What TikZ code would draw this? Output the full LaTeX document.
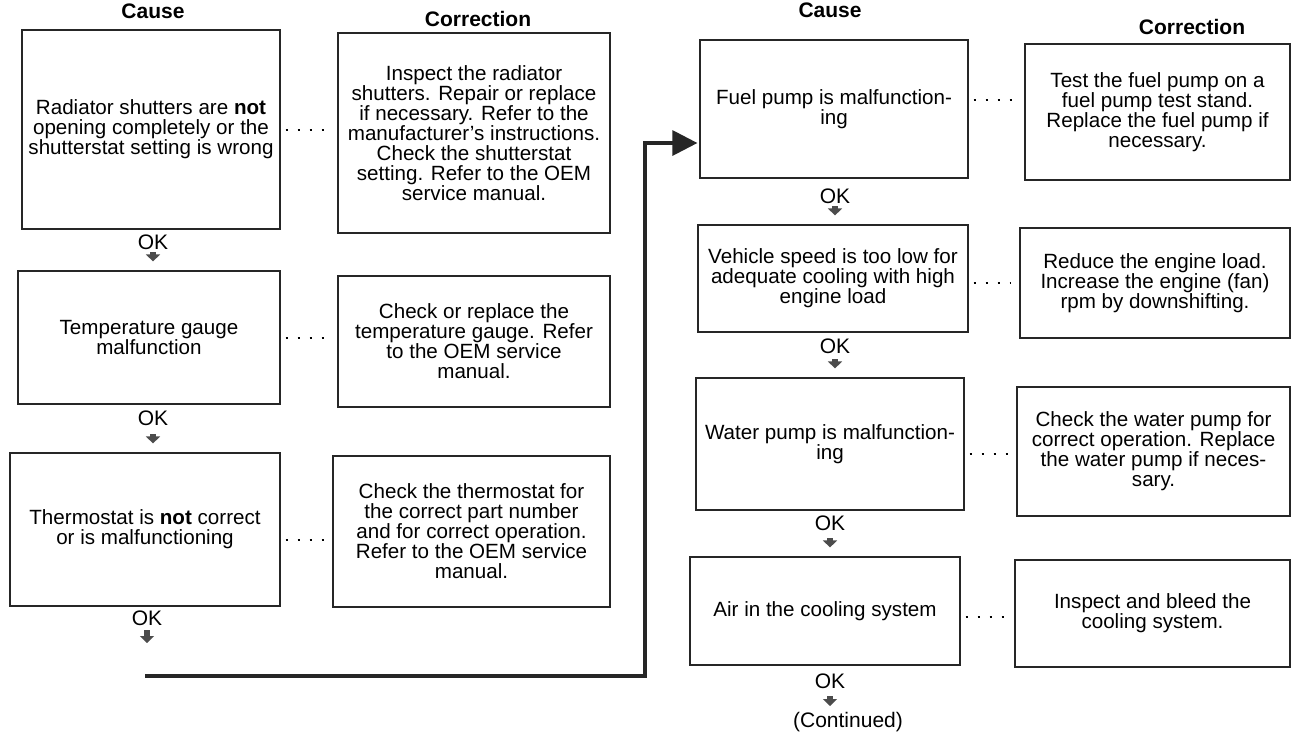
\documentclass[tikz,border=0pt]{standalone}
\usepackage{fontspec}
\setmainfont{Liberation Sans}
\usetikzlibrary{arrows.meta}

\begin{document}
\begin{tikzpicture}[x=0.5pt, y=-0.5pt, font=\fontsize{10.3}{10}\selectfont,
  causebox/.style={draw=black!85, line width=0.6pt, inner sep=0pt, align=center},
  colhead/.style={inner sep=0pt, font=\fontsize{10.5}{12}\selectfont\bfseries},
  oklabel/.style={inner sep=0pt, font=\fontsize{10.5}{12}\selectfont},
  okarrow/.style={-{Triangle[length=3.5pt,width=7pt]}, line width=2.6pt, draw=black!70, shorten >=4.5pt},
  dotrow/.style={line width=1pt, dash pattern=on 1pt off 5pt, shorten <=2.5pt, shorten >=4pt},
  mainline/.style={-{Triangle[length=12.5pt,width=12.5pt]}, line width=1.6pt, draw=black!85, shorten >=1pt}]
  \useasboundingbox (0,0) rectangle (1293,735);
  \fill[white] (0,0) rectangle (1293,735);

  % ---- column heads ----
  \node[colhead] (hcauseL) at (153,11) {Cause};
  \node[colhead] (hcorrL) at (478,19) {Correction};
  \node[colhead] (hcauseR) at (830,10) {Cause};
  \node[colhead] (hcorrR) at (1192,27) {Correction};

  % ---- left half: causes ----
  \node[causebox, minimum width=129pt, minimum height=99.5pt] (L1) at (151,129.5)
    {Radiator shutters are \textbf{not}\\opening completely or the\\shutterstat setting is wrong};
  \node[causebox, minimum width=131pt, minimum height=66.5pt] (L2) at (149,337.5)
    {Temperature gauge\\malfunction};
  \node[causebox, minimum width=135pt, minimum height=76.5pt] (L3) at (145,529.5)
    {Thermostat is \textbf{not} correct\\or is malfunctioning};

  % ---- left half: corrections ----
  \node[causebox, minimum width=136pt, minimum height=100pt] (C1) at (474,133)
    {Inspect the radiator\\shutters. Repair or replace\\if necessary. Refer to the\\manufacturer’s instructions.\\Check the shutterstat\\setting. Refer to the OEM\\service manual.};
  \node[causebox, minimum width=136pt, minimum height=65.5pt] (C2) at (474,341.5)
    {Check or replace the\\temperature gauge. Refer\\to the OEM service\\manual.};
  \node[causebox, minimum width=138.5pt, minimum height=75.5pt] (C3) at (471.5,531.5)
    {Check the thermostat for\\the correct part number\\and for correct operation.\\Refer to the OEM service\\manual.};

  % ---- right half: causes ----
  \node[causebox, minimum width=134pt, minimum height=69pt] (R1) at (834,109)
    {Fuel pump is malfunction-\\ing};
  \node[causebox, minimum width=135pt, minimum height=53.5pt] (R2) at (833,278.5)
    {Vehicle speed is too low for\\adequate cooling with high\\engine load};
  \node[causebox, minimum width=134pt, minimum height=66pt] (R3) at (830,444)
    {Water pump is malfunction-\\ing};
  \node[causebox, minimum width=135pt, minimum height=54pt] (R4) at (825,611)
    {Air in the cooling system};

  % ---- right half: corrections ----
  \node[causebox, minimum width=132.5pt, minimum height=68pt] (CR1) at (1157.5,112)
    {Test the fuel pump on a\\fuel pump test stand.\\Replace the fuel pump if\\necessary.};
  \node[causebox, minimum width=135pt, minimum height=55pt] (CR2) at (1155,283)
    {Reduce the engine load.\\Increase the engine (fan)\\rpm by downshifting.};
  \node[causebox, minimum width=136.5pt, minimum height=64.5pt] (CR3) at (1153.5,451.5)
    {Check the water pump for\\correct operation. Replace\\the water pump if neces-\\sary.};
  \node[causebox, minimum width=137.5pt, minimum height=53.5pt] (CR4) at (1152.5,613.5)
    {Inspect and bleed the\\cooling system.};

  % ---- dotted leaders cause -> correction (shift = text line they sit on) ----
  \foreach \c/\f/\s in {L1/C1/0pt, L2/C2/0pt, L3/C3/-5pt, R1/CR1/4.5pt, R2/CR2/-2pt, R3/CR3/-5pt, R4/CR4/-3pt} {
    \path ([yshift=\s]\c.east) coordinate (lead);
    \draw[dotrow] (lead) -- (lead -| \f.west);
  }

  % ---- OK steps ----
  \node[oklabel] (okL1) at (153,242) {OK};
  \node[oklabel] (okL2) at (153,418) {OK};
  \node[oklabel] (okL3) at (147,618) {OK};
  \node[oklabel] (okR1) at (835,196) {OK};
  \node[oklabel] (okR2) at (835,346) {OK};
  \node[oklabel] (okR3) at (830,523) {OK};
  \node[oklabel] (okR4) at (830,681) {OK};
  \coordinate (tailL) at (147,643);
  \coordinate (tailR) at (830,706);

  \draw[okarrow, shorten <=1.25pt] (okL1.south) -- (okL1.south |- L2.north);
  \draw[okarrow, shorten <=4.25pt] (okL2.south) -- (okL2.south |- L3.north);
  \draw[okarrow, shorten <=2.25pt, shorten >=0pt] (okL3.south) -- (tailL);
  \draw[okarrow, shorten <=1.25pt] (okR1.south) -- (okR1.south |- R2.north);
  \draw[okarrow, shorten <=2.75pt] (okR2.south) -- (okR2.south |- R3.north);
  \draw[okarrow, shorten <=3.75pt] (okR3.south) -- (okR3.south |- R4.north);
  \draw[okarrow, shorten <=3.75pt, shorten >=0pt] (okR4.south) -- (tailR);

  \node[oklabel] (cont) at (848,722) {(Continued)};

  % ---- jump to the right half ----
  \coordinate (start) at (145,676);
  \coordinate (entry) at ([yshift=-17pt]R1.west);
  \draw[mainline] (start) -- ++(500,0) |- (entry);
\end{tikzpicture}
\end{document}
